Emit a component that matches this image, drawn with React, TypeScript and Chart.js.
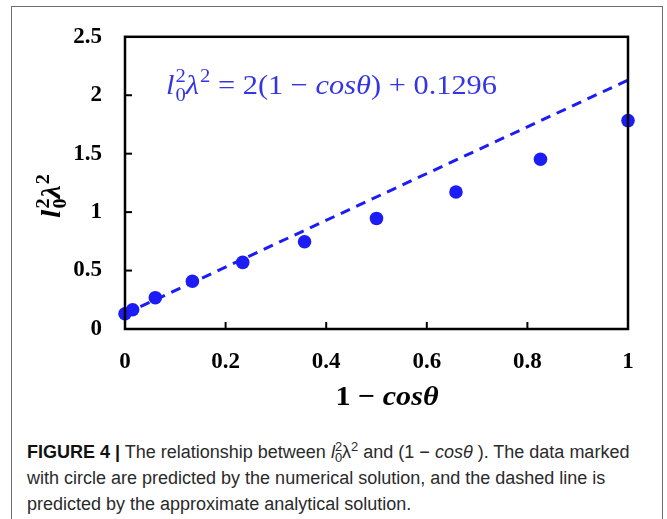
import React, { useEffect, useRef } from "react";
import { Chart, registerables } from "chart.js";

Chart.register(...registerables);

// numerical solution (circles): x = 1 - cos(theta), y = l0^2 * lambda^2
const xValues = [0, 0.0152, 0.0603, 0.134, 0.234, 0.357, 0.5, 0.658, 0.826, 1.0];
const yValues = [0.13, 0.165, 0.268, 0.408, 0.57, 0.746, 0.946, 1.172, 1.452, 1.783];
// approximate analytical solution (dashed): y = 2x + 0.1296
const fitX = [0, 1];
const fitY = [0.1296, 2.1296];

const xTicks = [0, 0.2, 0.4, 0.6, 0.8, 1];
const xTickLabels = ["0", "0.2", "0.4", "0.6", "0.8", "1"];
const yTicks = [0, 0.5, 1, 1.5, 2, 2.5];
const yTickLabels = ["0", "0.5", "1", "1.5", "2", "2.5"];

const BLUE = "#1c1cf5";
const EQ_BLUE = "#3535e6";

type Seg = { t: string; it?: boolean; sup?: string; sub?: string };

function fontStr(size: number, bold: boolean, italic: boolean, family: string) {
  return `${italic ? "italic " : ""}${bold ? "bold " : ""}${size}px ${family}`;
}

function drawRich(
  ctx: CanvasRenderingContext2D,
  segs: Seg[],
  x: number,
  y: number,
  size: number,
  family: string,
  bold: boolean,
  color: string,
  align: "left" | "center",
  targetWidth?: number
) {
  const ss = size * 0.68;
  const widths = segs.map((s) => {
    ctx.font = fontStr(size, bold, !!s.it, family);
    const w = ctx.measureText(s.t).width;
    ctx.font = fontStr(ss, bold, false, family);
    const ws = Math.max(s.sup ? ctx.measureText(s.sup).width : 0, s.sub ? ctx.measureText(s.sub).width : 0);
    return { w, ws };
  });
  const total = widths.reduce((a, b) => a + b.w + b.ws + (b.ws ? 1 : 0), 0);
  const k = targetWidth ? targetWidth / total : 1;
  ctx.save();
  ctx.translate(align === "center" ? x - (total * k) / 2 : x, y);
  ctx.scale(k, 1);
  let cx = 0;
  ctx.fillStyle = color;
  ctx.textBaseline = "alphabetic";
  ctx.textAlign = "left";
  segs.forEach((s, i) => {
    ctx.font = fontStr(size, bold, !!s.it, family);
    ctx.fillText(s.t, cx, 0);
    cx += widths[i].w;
    if (s.sup || s.sub) {
      cx += 1;
      ctx.font = fontStr(ss, bold, false, family);
      if (s.sup) ctx.fillText(s.sup, cx, -size * 0.42);
      if (s.sub) ctx.fillText(s.sub, cx, size * 0.24);
      cx += widths[i].ws;
    }
  });
  ctx.restore();
}

const decorPlugin = {
  id: "decor",
  afterDraw(chart: any) {
    const { ctx, chartArea } = chart;
    const xs = chart.scales.x;
    const ys = chart.scales.y;
    ctx.save();
    // plot frame
    ctx.strokeStyle = "#000";
    ctx.lineWidth = 2.5;
    ctx.strokeRect(chartArea.left, chartArea.top, chartArea.right - chartArea.left, chartArea.bottom - chartArea.top);
    // inward ticks
    ctx.lineWidth = 2;
    xTicks.slice(1, -1).forEach((v) => {
      const px = xs.getPixelForValue(v);
      ctx.beginPath();
      ctx.moveTo(px, chartArea.bottom);
      ctx.lineTo(px, chartArea.bottom - 7);
      ctx.stroke();
    });
    yTicks.slice(1, -1).forEach((v) => {
      const py = ys.getPixelForValue(v);
      ctx.beginPath();
      ctx.moveTo(chartArea.left, py);
      ctx.lineTo(chartArea.left + 7, py);
      ctx.stroke();
    });
    ctx.restore();

    // equation
    drawRich(
      ctx,
      [
        { t: "l", it: true, sup: "2", sub: "0" },
        { t: "λ", it: true, sup: "2" },
        { t: " = 2(1 − " },
        { t: "cosθ", it: true },
        { t: ") + 0.1296" },
      ],
      166,
      94,
      28,
      "'Liberation Serif'",
      false,
      EQ_BLUE,
      "left",
      331
    );

    // x axis title
    drawRich(
      ctx,
      [{ t: "1 − " }, { t: "cosθ", it: true }],
      387,
      405,
      28,
      "'Liberation Serif'",
      true,
      "#000",
      "center",
      103
    );

    // y axis title
    ctx.save();
    ctx.translate(60, 196);
    ctx.rotate(-Math.PI / 2);
    drawRich(
      ctx,
      [
        { t: "l", it: true, sup: "2", sub: "0" },
        { t: "λ", it: true, sup: "2" },
      ],
      0,
      0,
      27,
      "'Liberation Serif'",
      true,
      "#000",
      "center",
      44
    );
    ctx.restore();
  },
};

export default function App() {
  const ref = useRef<HTMLCanvasElement>(null);

  useEffect(() => {
    if (!ref.current) return;
    const tickFont = { family: "'Liberation Serif'", size: 23, weight: "bold" as const };
    const chart = new Chart(ref.current, {
      type: "scatter",
      data: {
        datasets: [
          {
            label: "numerical",
            data: xValues.map((x, i) => ({ x, y: yValues[i] })),
            backgroundColor: BLUE,
            borderColor: BLUE,
            pointRadius: 6.8,
            pointBorderWidth: 0,
            showLine: false,
            clip: false as any,
          },
          {
            label: "analytical",
            data: fitX.map((x, i) => ({ x, y: fitY[i] })),
            borderColor: BLUE,
            backgroundColor: BLUE,
            borderWidth: 3,
            borderDash: [10, 7],
            pointRadius: 0,
            showLine: true,
            clip: false as any,
          },
        ],
      },
      options: {
        responsive: false,
        animation: false,
        layout: { padding: { left: 0, right: 39, top: 32, bottom: 31 } },
        plugins: { legend: { display: false }, tooltip: { enabled: false } },
        scales: {
          x: {
            type: "linear",
            min: 0,
            max: 1,
            afterFit: (s: any) => {
              s.height = 60;
            },
            afterBuildTicks: (s: any) => {
              s.ticks = xTicks.map((v) => ({ value: v }));
            },
            grid: { display: false, drawTicks: false },
            border: { display: false },
            ticks: {
              padding: 19,
              color: "#000",
              font: tickFont,
              maxRotation: 0,
              autoSkip: false,
              callback: (_v: any, i: number) => xTickLabels[i],
            },
          },
          y: {
            type: "linear",
            min: 0,
            max: 2.5,
            afterFit: (s: any) => {
              s.width = 125;
            },
            afterBuildTicks: (s: any) => {
              s.ticks = yTicks.map((v) => ({ value: v }));
            },
            grid: { display: false, drawTicks: false },
            border: { display: false },
            ticks: {
              padding: 23,
              color: "#000",
              font: tickFont,
              autoSkip: false,
              callback: (_v: any, i: number) => yTickLabels[i],
            },
          },
        },
      },
      plugins: [decorPlugin],
    });
    return () => chart.destroy();
  }, []);

  const stack = (
    <span
      style={{
        display: "inline-block",
        verticalAlign: "-0.3em",
        fontSize: "0.72em",
        lineHeight: "0.85em",
        textAlign: "left",
      }}
    >
      <span style={{ display: "block" }}>2</span>
      <span style={{ display: "block" }}>0</span>
    </span>
  );

  return (
    <div style={{ position: "absolute", left: 0, top: 0, width: 667, height: 519, overflow: "hidden", background: "#fff" }}>
      <div
        style={{
          position: "absolute",
          left: 11,
          top: 6,
          width: 652,
          height: 530,
          border: "1.5px solid #6e6e6e",
          boxSizing: "border-box",
        }}
      />
      <canvas
        ref={ref}
        width={667}
        height={420}
        style={{ position: "absolute", left: 0, top: 0, width: 667, height: 420 }}
      />
      <div
        style={{
          position: "absolute",
          left: 27,
          top: 439,
          fontFamily: "'Liberation Sans', Arial, sans-serif",
          fontSize: 18,
          lineHeight: "26px",
          color: "#2a2a2a",
          whiteSpace: "nowrap",
        }}
      >
        <b style={{ color: "#111" }}>FIGURE 4 |</b> The relationship between <i>l</i>
        {stack}λ<sup style={{ fontSize: "0.72em", lineHeight: 0 }}>2</sup> and (1 − <i>cosθ</i> ). The data marked
        <br />
        with circle are predicted by the numerical solution, and the dashed line is
        <br />
        predicted by the approximate analytical solution.
      </div>
    </div>
  );
}
